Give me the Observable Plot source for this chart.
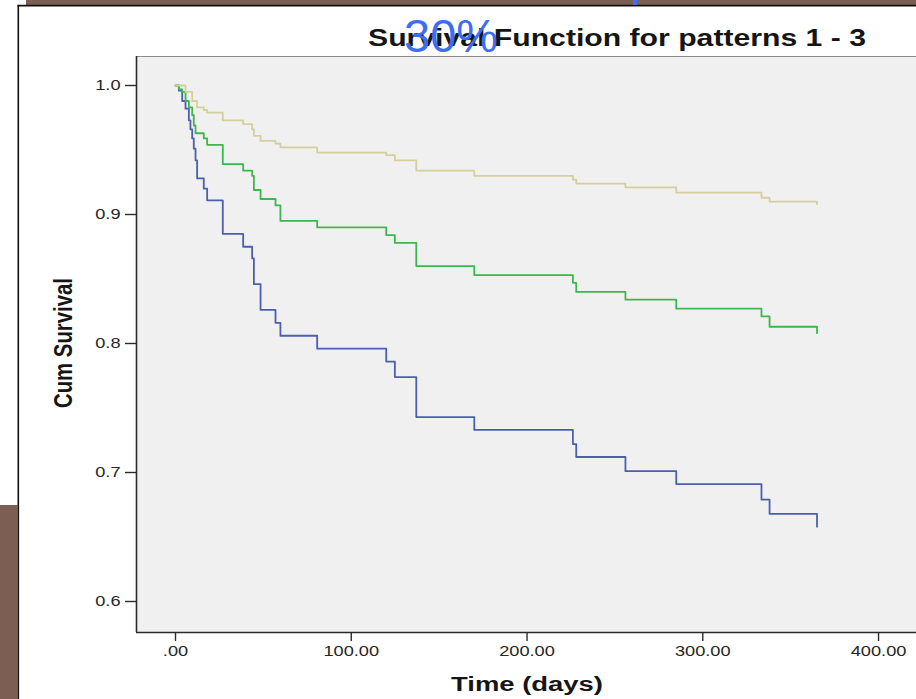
<!DOCTYPE html>
<html>
<head>
<meta charset="utf-8">
<script src="https://cdn.jsdelivr.net/npm/d3@7"></script>
<script src="https://cdn.jsdelivr.net/npm/@observablehq/plot@0.6"></script>
<style>
  html, body { margin: 0; padding: 0; background: #ffffff; overflow: hidden; }
  #chart { position: absolute; left: 0; top: 0; width: 916px; height: 699px; }
</style>
</head>
<body>
<div id="chart"></div>
<script>
// ---- data ----
const seriesNames = ["1", "2", "3"];
const seriesColors = ["#4a5fb0", "#3cb64e", "#d5d09b"];

const pattern1Time = [0, 1.9, 3.8, 5.7, 7.6, 8.5, 9.5, 10.4, 11.4, 12.3, 16.1, 18.0, 26.9, 38.5, 43.6, 44.6, 48.4, 56.9, 59.7, 80.6, 119.9, 124.8, 137.0, 170.0, 226.1, 228.0, 256.0, 284.9, 333.4, 338.0, 365];
const pattern1Surv = [1, 0.996, 0.988, 0.982, 0.973, 0.966, 0.959, 0.951, 0.942, 0.928, 0.920, 0.911, 0.885, 0.875, 0.866, 0.846, 0.826, 0.816, 0.806, 0.796, 0.786, 0.774, 0.743, 0.733, 0.722, 0.712, 0.701, 0.691, 0.679, 0.668, 0.658];

const pattern2Time = [0, 1.9, 3.8, 5.7, 7.6, 9.5, 10.4, 11.4, 16.1, 18.0, 26.9, 38.5, 43.6, 44.6, 48.4, 56.9, 59.7, 80.6, 119.9, 124.8, 137.0, 170.0, 226.1, 228.0, 256.0, 284.9, 333.4, 338.0, 365];
const pattern2Surv = [1, 0.997, 0.995, 0.988, 0.983, 0.977, 0.969, 0.963, 0.959, 0.954, 0.939, 0.934, 0.930, 0.919, 0.912, 0.907, 0.895, 0.890, 0.884, 0.878, 0.860, 0.853, 0.847, 0.840, 0.834, 0.827, 0.821, 0.813, 0.808];

const pattern3Time = [0, 5.7, 9.5, 12.3, 16.1, 18.0, 26.9, 38.5, 43.6, 44.6, 48.4, 56.9, 59.7, 80.6, 119.9, 124.8, 137.0, 170.0, 226.1, 228.0, 256.0, 284.9, 333.4, 338.0, 365];
const pattern3Surv = [1, 0.995, 0.988, 0.983, 0.981, 0.979, 0.973, 0.970, 0.966, 0.961, 0.957, 0.955, 0.952, 0.948, 0.946, 0.942, 0.934, 0.930, 0.927, 0.924, 0.921, 0.917, 0.913, 0.910, 0.908];

const xTicks = [0, 100, 200, 300, 400];
const xTickLabels = [".00", "100.00", "200.00", "300.00", "400.00"];
const yTicks = [0.6, 0.7, 0.8, 0.9, 1.0];
const yTickLabels = ["0.6", "0.7", "0.8", "0.9", "1.0"];

const titleText = "Survival Function for patterns 1 - 3";
const xLabel = "Time (days)";
const yLabel = "Cum Survival";
const overlayText = "30%";

// ---- build table ----
const timesList = [pattern1Time, pattern2Time, pattern3Time];
const survList = [pattern1Surv, pattern2Surv, pattern3Surv];
const rows = [];
seriesNames.forEach((name, k) => {
  timesList[k].forEach((t, i) => rows.push({pattern: name, t, s: survList[k][i]}));
});

const xDomain = [-22.19, 421.6];
const yDomain = [0.57597, 1.02248];

const plot = Plot.plot({
  width: 916,
  height: 699,
  marginLeft: 136,
  marginRight: 0,
  marginTop: 56,
  marginBottom: 67,
  style: {fontFamily: "'Liberation Sans', Arial, sans-serif", fontSize: "14px", background: "transparent", color: "#262626"},
  x: {domain: xDomain},
  y: {domain: yDomain},
  color: {domain: seriesNames, range: seriesColors},
  marks: [
    Plot.frame({fill: "#f0f0f0", stroke: "none"}),
    Plot.ruleY([yDomain[1]], {stroke: "#8c8c8c", strokeWidth: 1}),
    Plot.line(rows, {x: "t", y: "s", z: "pattern", stroke: "pattern", curve: "step-after", strokeWidth: 1.8}),
    Plot.ruleX([xDomain[0]], {stroke: "#2b2b2b", strokeWidth: 1.6}),
    Plot.ruleY([yDomain[0]], {stroke: "#2b2b2b", strokeWidth: 1.6}),
    Plot.axisX({ticks: xTicks, tickFormat: d => xTickLabels[xTicks.indexOf(d)], tickSize: 9, tickPadding: 5, label: null, stroke: "#2b2b2b", strokeWidth: 1.4}),
    Plot.axisY({ticks: yTicks, tickFormat: d => yTickLabels[yTicks.indexOf(d)], tickSize: 11, tickPadding: 5, label: null, stroke: "#2b2b2b", strokeWidth: 1.4})
  ]
});

document.getElementById("chart").appendChild(plot);

// widen tick labels (the reference picture is horizontally stretched)
d3.select(plot).selectAll("text").each(function() {
  const L = this.getComputedTextLength();
  if (L > 0) {
    this.setAttribute("textLength", (L * 1.3).toFixed(1));
    this.setAttribute("lengthAdjust", "spacingAndGlyphs");
  }
});

const svg = d3.select(plot);
const deco = svg.append("g").attr("aria-label", "decoration");
// slide background pieces
deco.append("rect").attr("x", 26).attr("y", 0).attr("width", 890).attr("height", 5).attr("fill", "#7c5e53");
deco.append("rect").attr("x", 0).attr("y", 505).attr("width", 17.5).attr("height", 194).attr("fill", "#7c5e53");
deco.append("line").attr("x1", 17.5).attr("x2", 916).attr("y1", 5.6).attr("y2", 5.6).attr("stroke", "#111").attr("stroke-width", 1.6);
deco.append("line").attr("x1", 18.3).attr("x2", 18.3).attr("y1", 5).attr("y2", 699).attr("stroke", "#111").attr("stroke-width", 1.6);
deco.append("rect").attr("x", 633).attr("y", 0).attr("width", 4).attr("height", 5).attr("fill", "#3d6df5");

// title
deco.append("text")
  .attr("x", 617).attr("y", 46)
  .attr("text-anchor", "middle")
  .attr("font-family", "'Liberation Sans', Arial, sans-serif")
  .attr("font-weight", "bold").attr("font-size", 23)
  .attr("fill", "#151515")
  .attr("textLength", 498).attr("lengthAdjust", "spacingAndGlyphs")
  .text(titleText);

// x label
deco.append("text")
  .attr("x", 527).attr("y", 691)
  .attr("text-anchor", "middle")
  .attr("font-family", "'Liberation Sans', Arial, sans-serif")
  .attr("font-weight", "bold").attr("font-size", 20)
  .attr("fill", "#151515")
  .attr("textLength", 152).attr("lengthAdjust", "spacingAndGlyphs")
  .text(xLabel);

// y label
deco.append("text")
  .attr("transform", "translate(72,343) scale(1.3,1) rotate(-90)")
  .attr("text-anchor", "middle")
  .attr("font-family", "'Liberation Sans', Arial, sans-serif")
  .attr("font-weight", "bold").attr("font-size", 20)
  .attr("fill", "#151515")
  .attr("textLength", 130).attr("lengthAdjust", "spacingAndGlyphs")
  .text(yLabel);

// overlay "30%"
deco.append("text")
  .attr("x", 404).attr("y", 51.5)
  .attr("text-anchor", "start")
  .attr("font-family", "'Liberation Sans', Arial, sans-serif")
  .attr("font-size", 47)
  .attr("fill", "#3d6df5")
  .text(overlayText);
</script>
</body>
</html>
